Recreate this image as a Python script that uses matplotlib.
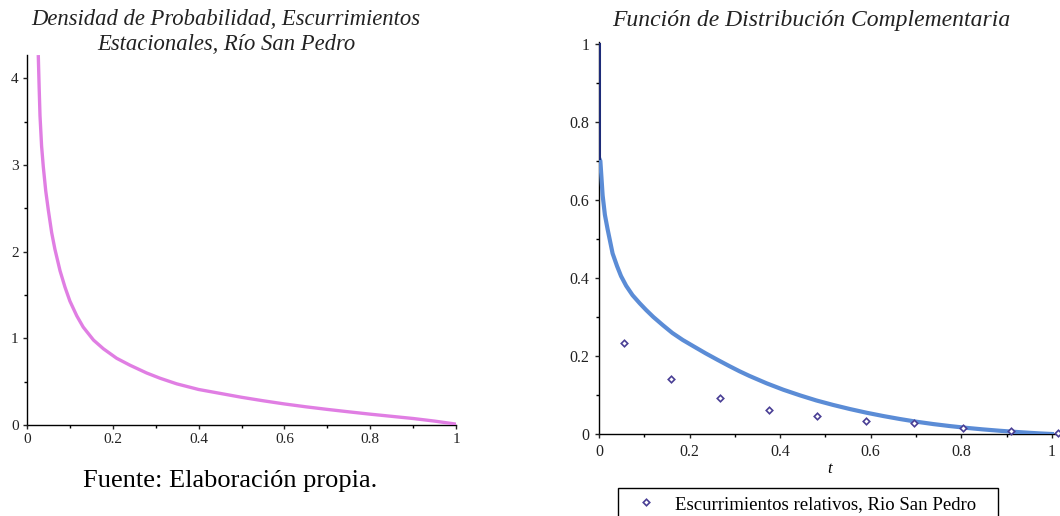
import numpy as np
import matplotlib.pyplot as plt
from matplotlib.ticker import MultipleLocator, FormatStrFormatter

plt.rcParams['font.family'] = ['Liberation Serif', 'DejaVu Serif']

# densidad
dens_x = [0.0264, 0.0283, 0.0303, 0.034, 0.038, 0.0437, 0.0497, 0.0575, 0.065,
          0.077, 0.0886, 0.100, 0.116, 0.131, 0.155, 0.178, 0.209, 0.240, 0.279,
          0.310, 0.349, 0.40, 0.45, 0.50, 0.55, 0.60, 0.65, 0.70, 0.75, 0.80,
          0.85, 0.90, 0.95, 1.00]
dens_y = [4.25, 3.90, 3.57, 3.22, 2.98, 2.70, 2.48, 2.22, 2.03,
          1.78, 1.59, 1.43, 1.26, 1.13, 0.98, 0.88, 0.77, 0.69, 0.60,
          0.54, 0.475, 0.41, 0.365, 0.32, 0.28, 0.243, 0.21, 0.18, 0.152, 0.125,
          0.10, 0.075, 0.045, 0.01]

# funcion de distribucion complementaria
cdf_t = [0.0, 0.0, 0.003, 0.008, 0.013, 0.019, 0.030, 0.040, 0.0486, 0.060,
         0.074, 0.090, 0.104, 0.120, 0.141, 0.162, 0.185, 0.210, 0.236, 0.262,
         0.288, 0.310, 0.332, 0.370, 0.407, 0.444, 0.480, 0.517, 0.554, 0.591,
         0.628, 0.664, 0.701, 0.738, 0.775, 0.812, 0.848, 0.885, 0.92, 0.95,
         0.975, 1.0]
cdf_y = [1.0, 0.708, 0.70, 0.612, 0.562, 0.525, 0.463, 0.430, 0.405, 0.380,
         0.356, 0.335, 0.318, 0.300, 0.279, 0.259, 0.241, 0.224, 0.2065, 0.190,
         0.174, 0.161, 0.149, 0.130, 0.1135, 0.099, 0.086, 0.0745, 0.064, 0.0545,
         0.046, 0.0385, 0.0315, 0.0255, 0.0203, 0.0157, 0.0118, 0.0083, 0.0054,
         0.0031, 0.0014, 0.0]

# escurrimientos relativos observados
obs_t = [0.0545, 0.160, 0.267, 0.375, 0.481, 0.589, 0.695, 0.803, 0.909, 1.014]
obs_y = [0.233, 0.141, 0.0915, 0.0608, 0.0454, 0.034, 0.0274, 0.0146, 0.0077, 0.002]

W, H = 1060, 516
fig = plt.figure(figsize=(W / 100, H / 100), dpi=100)


def style_axis(ax, fs):
    for s in ['top', 'right']:
        ax.spines[s].set_visible(False)
    for s in ['left', 'bottom']:
        ax.spines[s].set_linewidth(1.0)
        ax.spines[s].set_zorder(1)
    ax.tick_params(which='major', direction='out', length=3, width=1,
                   labelsize=fs, colors='#222222', pad=3)
    ax.tick_params(which='minor', direction='out', length=2.5, width=1)
    ax.xaxis.set_major_locator(MultipleLocator(0.2))
    ax.xaxis.set_minor_locator(MultipleLocator(0.1))
    ax.xaxis.set_major_formatter(FormatStrFormatter('%g'))
    ax.yaxis.set_major_formatter(FormatStrFormatter('%g'))


# --- izquierda: densidad ---
ax1 = fig.add_axes([27 / W, 1 - 425 / H, 429 / W, 370 / H])
ax1.plot(dens_x, dens_y, color='#e07ee3', lw=2.4, solid_joinstyle='round')
ax1.set_xlim(0, 1)
ax1.set_ylim(0, 4.27)
style_axis(ax1, 11)
ax1.yaxis.set_major_locator(MultipleLocator(1))
ax1.yaxis.set_minor_locator(MultipleLocator(0.5))

fig.text(226 / W, 1 - 25 / H, 'Densidad de Probabilidad, Escurrimientos',
         ha='center', va='baseline', style='italic', fontsize=16.3, color='#222222')
fig.text(226 / W, 1 - 50 / H, 'Estacionales, Río San Pedro',
         ha='center', va='baseline', style='italic', fontsize=16.3, color='#222222')
fig.text(230 / W, 1 - 487 / H, 'Fuente: Elaboración propia.',
         ha='center', va='baseline', fontsize=19)

# --- derecha: distribucion complementaria ---
ax2 = fig.add_axes([599 / W, 1 - 434 / H, 461 / W, 392 / H])
ax2.plot(cdf_t[1:], cdf_y[1:], color='#5b8cd6', lw=3.0, zorder=3,
         solid_joinstyle='round')
ax2.plot(cdf_t[:2], cdf_y[:2], color='#1d2b78', lw=2.2, zorder=3)
ax2.plot(obs_t, obs_y, linestyle='none', marker='D', markersize=3.3,
         markerfacecolor='white', markeredgecolor='#4a3f95', markeredgewidth=1.2,
         clip_on=False, zorder=4, label='Escurrimientos relativos, Rio San Pedro')
ax2.set_xlim(0, 1.018)
ax2.set_ylim(0, 1.005)
style_axis(ax2, 11.5)
ax2.tick_params(which='major', pad=4)
ax2.yaxis.set_major_locator(MultipleLocator(0.2))
ax2.yaxis.set_minor_locator(MultipleLocator(0.1))
ax2.set_xlabel('t', style='italic', fontsize=12, labelpad=1)

fig.text(811 / W, 1 - 26 / H, 'Función de Distribución Complementaria',
         ha='center', va='baseline', style='italic', fontsize=17, color='#222222')

ax2.legend(loc='upper left', bbox_to_anchor=(618 / W, 1 - 488 / H - 0.1, 380 / W, 0.1),
           bbox_transform=fig.transFigure, mode='expand', borderaxespad=0,
           fontsize=13.5, frameon=True, fancybox=False, framealpha=1,
           edgecolor='black', borderpad=0.4, handlelength=2.2, handletextpad=0.45)
ax2.get_legend().get_frame().set_linewidth(1.0)

fig.savefig('out.png', dpi=100)
